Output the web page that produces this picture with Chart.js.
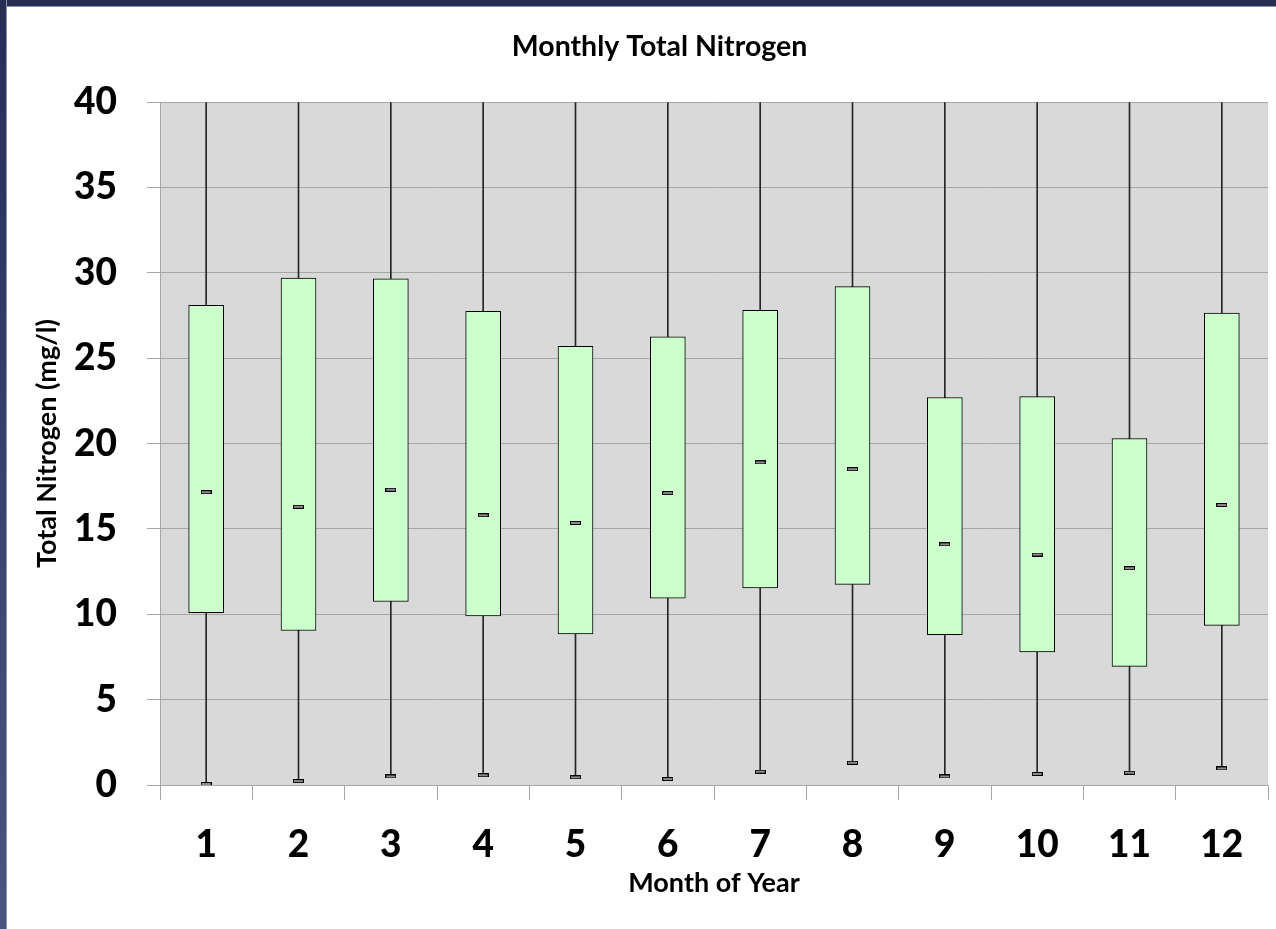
<!DOCTYPE html>
<html>
<head>
<meta charset="utf-8">
<script src="https://cdn.jsdelivr.net/npm/chart.js@4"></script>
<style>
  html, body { margin: 0; padding: 0; background: #fff; }
  body { width: 1276px; height: 929px; position: relative; overflow: hidden; }
  #topbar { position: absolute; left: 0; top: 0; width: 1276px; height: 6px; background: #262e54; border-bottom: 1px solid #8d92a8; }
  #leftbar { position: absolute; left: 0; top: 0; width: 6px; height: 929px; background: linear-gradient(#262e54, #4b567f); border-right: 1px solid #8d92a8; }
  #wrap { position: absolute; left: 7px; top: 7px; width: 1269px; height: 922px; }
</style>
</head>
<body>
<div id="topbar"></div>
<div id="leftbar"></div>
<div id="wrap"><canvas id="chart"></canvas></div>
<script>
// Total de azoto por mes (caixas: quartis, traco: mediana, marcas: minimo)
const months  = ['1', '2', '3', '4', '5', '6', '7', '8', '9', '10', '11', '12'];
const q1      = [10.1, 9.05, 10.75, 9.9, 8.85, 10.95, 11.55, 11.75, 8.8, 7.8, 6.95, 9.35];
const q3      = [28.1, 29.7, 29.65, 27.75, 25.7, 26.25, 27.8, 29.2, 22.7, 22.75, 20.3, 27.65];
const medians = [17.15, 16.3, 17.3, 15.8, 15.35, 17.1, 18.9, 18.5, 14.1, 13.5, 12.7, 16.4];
const mins    = [0.06, 0.23, 0.5, 0.57, 0.45, 0.35, 0.78, 1.3, 0.5, 0.65, 0.72, 0.97];
// maximos ficam fora da escala (acima de 40) no original
const maxes   = [62, 58, 71, 55, 60, 52, 66, 57, 49, 54, 47, 61];
const yTicks  = [0, 5, 10, 15, 20, 25, 30, 35, 40];

const FONT = 'Lato, "Open Sans", sans-serif';

// marcador pequeno (retangulo cinzento com contorno preto)
const marca = document.createElement('canvas');
marca.width = 11; marca.height = 4;
(function () {
  const c = marca.getContext('2d');
  c.fillStyle = '#000'; c.fillRect(0, 0, 11, 4);
  c.fillStyle = '#8c8c8c'; c.fillRect(1, 1, 9, 2);
})();

// fundo cinzento da area do grafico
const fundo = {
  id: 'fundo',
  beforeDraw(chart) {
    const a = chart.chartArea, ctx = chart.ctx;
    ctx.save();
    ctx.fillStyle = '#d9d9d9';
    ctx.fillRect(a.left, a.top, a.right - a.left, a.bottom - a.top);
    ctx.restore();
  }
};

new Chart(document.getElementById('chart'), {
  type: 'bar',
  data: {
    labels: months,
    datasets: [
      { type: 'line', data: medians, showLine: false, pointStyle: marca, order: 0 },
      { type: 'line', data: mins, showLine: false, pointStyle: marca, order: 0 },
      { data: months.map((m, i) => [q1[i], q3[i]]), backgroundColor: '#ccffcc',
        borderColor: '#000', borderWidth: 1, borderSkipped: false, barThickness: 35,
        grouped: false, order: 1 },
      { data: months.map((m, i) => [mins[i], maxes[i]]), backgroundColor: '#262626',
        barThickness: 1, grouped: false, order: 2 }
    ]
  },
  options: {
    responsive: true,
    maintainAspectRatio: false,
    animation: false,
    // padding a esquerda para o titulo ficar centrado como no original
    layout: { padding: { left: 44, right: 8, top: 0, bottom: 0 } },
    plugins: {
      legend: { display: false },
      tooltip: { enabled: false },
      title: {
        display: true, text: 'Monthly Total Nitrogen', color: '#000',
        font: { family: FONT, size: 28.5, weight: 'bold' }, padding: { top: 23, bottom: 38 }
      }
    },
    scales: {
      x: {
        offset: true,
        grid: { drawOnChartArea: false, drawTicks: true, tickLength: 15, offset: true, color: '#a6a6a6' },
        border: { color: '#a6a6a6' },
        ticks: { color: '#000', font: { family: FONT, size: 37, weight: '900' }, padding: 23, maxRotation: 0 },
        title: { display: true, text: 'Month of Year', color: '#000',
          font: { family: FONT, size: 27, weight: 'bold' }, padding: { top: 0, bottom: 30 } },
        afterFit: (s) => { s.height = 144; }
      },
      y: {
        min: 0, max: 40,
        afterBuildTicks: (s) => { s.ticks = yTicks.map(v => ({ value: v })); },
        grid: { color: '#a6a6a6', tickLength: 13 },
        border: { color: '#a6a6a6' },
        ticks: { color: '#000', font: { family: FONT, size: 37, weight: '900' }, padding: 30 },
        title: { display: true, text: 'Total Nitrogen (mg/l)', color: '#000',
          font: { family: FONT, size: 27, weight: 'bold' }, padding: { top: -20, bottom: 0 } },
        afterFit: (s) => { s.width = 109; }
      }
    }
  },
  plugins: [fundo]
});
</script>
</body>
</html>
